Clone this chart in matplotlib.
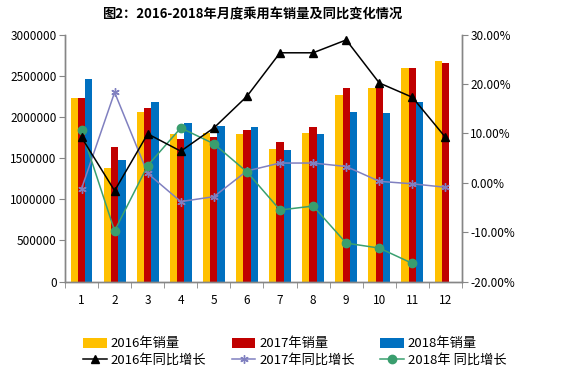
"""
Monthly passenger car sales 2016-2018 with YoY growth (bars + lines, twin axes).
"""

import numpy as np
import matplotlib
matplotlib.use("Agg")
import matplotlib.pyplot as plt
from matplotlib.ticker import FuncFormatter

# ─────────────────────────────────────────
# DATA
# ─────────────────────────────────────────
months = [str(m) for m in range(1, 13)]

sales_2016 = [2233000, 1376000, 2059000, 1792000, 1801000, 1792000,
              1607000, 1801000, 2266000, 2347000, 2590000, 2682000]
sales_2017 = [2233000, 1635000, 2104000, 1728000, 1752000, 1841000,
              1692000, 1881000, 2347000, 2359000, 2590000, 2658000]
sales_2018 = [2464000, 1481000, 2181000, 1922000, 1893000, 1881000,
              1594000, 1789000, 2063000, 2047000, 2181000, np.nan]

yoy_2016 = [9.2, -1.6, 9.9, 6.4, 11.1, 17.5, 26.3, 26.3, 28.9, 20.2, 17.3, 9.2]
yoy_2017 = [-1.2, 18.3, 1.9, -3.8, -2.8, 2.4, 4.0, 4.0, 3.3, 0.3, -0.2, -0.9]
yoy_2018 = [10.6, -9.7, 3.5, 11.1, 7.9, 2.2, -5.5, -4.7, -12.2, -13.2, -16.3, np.nan]

bar_labels = ["2016年销量", "2017年销量", "2018年销量"]
line_labels = ["2016年同比增长", "2017年同比增长", "2018年 同比增长"]
title = "图2：2016-2018年月度乘用车销量及同比变化情况"

# ─────────────────────────────────────────
# STYLE
# ─────────────────────────────────────────
plt.rcParams["font.family"] = ["Noto Sans CJK SC", "DejaVu Sans"]
YELLOW, RED, BLUE = "#FFC000", "#C00000", "#0070C0"
AXIS_GRAY = "#868686"

fig = plt.figure(figsize=(5.67, 3.73), dpi=100)
ax = fig.add_axes([0.1146, 0.2448, 0.7002, 0.6627])
ax2 = ax.twinx()

x = np.arange(len(months))
w = 0.22
for off, vals, col, lab in zip([-w, 0, w],
                               [sales_2016, sales_2017, sales_2018],
                               [YELLOW, RED, BLUE], bar_labels):
    ax.bar(x + off, vals, width=w, color=col, label=lab, zorder=2)

ax.set_xlim(-0.5, 11.5)
ax.set_ylim(0, 3000000)
ax.set_yticks(np.arange(0, 3000001, 500000))
ax.yaxis.set_major_formatter(FuncFormatter(lambda v, p: f"{int(v)}"))
ax.set_xticks(x)
ax.set_xticklabels(months)
ax.set_xticks(np.arange(-0.5, 12, 1), minor=True)
ax.tick_params(axis="x", which="major", length=0, pad=9, labelsize=8.5)
ax.tick_params(axis="x", which="minor", length=4, color=AXIS_GRAY)
ax.tick_params(axis="y", length=4, color=AXIS_GRAY, labelsize=8.5, pad=2)

l1, = ax2.plot(x, yoy_2016, color="black", lw=1.1, marker="^", ms=6,
               label=line_labels[0], zorder=4)
l2, = ax2.plot(x, yoy_2017, color="#8080C0", lw=1.1, marker=(6, 2, 0), ms=6,
               mew=1, label=line_labels[1], zorder=3)
l3, = ax2.plot(x, yoy_2018, color="#3AA070", lw=1.1, marker="o", ms=6,
               mfc="#3A9E6E", mec="#3A9E6E", label=line_labels[2], zorder=3)

ax2.set_ylim(-20, 30)
ax2.set_yticks(np.arange(-20, 31, 10))
ax2.yaxis.set_major_formatter(FuncFormatter(lambda v, p: f"{v:.2f}%"))
ax2.tick_params(axis="y", length=4, color=AXIS_GRAY, labelsize=8.5, pad=2)

for a in (ax, ax2):
    a.spines["top"].set_visible(False)
    for s in ("left", "right", "bottom"):
        a.spines[s].set_color(AXIS_GRAY)
        a.spines[s].set_linewidth(1)

fig.text(0.444, 0.962, title, ha="center", va="center",
         fontsize=9.5, fontweight="bold")

bars = ax.get_legend_handles_labels()[0]
handles = [bars[0], l1, bars[1], l2, bars[2], l3]
labels = [bar_labels[0], line_labels[0], bar_labels[1], line_labels[1],
          bar_labels[2], line_labels[2]]
fig.legend(handles, labels, ncol=3, loc="center", bbox_to_anchor=(0.52, 0.056),
           frameon=False, fontsize=9.5, handlelength=1.8, handleheight=0.8,
           columnspacing=1.9, labelspacing=0.25, handletextpad=0.3,
           borderaxespad=0)

plt.savefig("out.png", dpi=100)
plt.close()
